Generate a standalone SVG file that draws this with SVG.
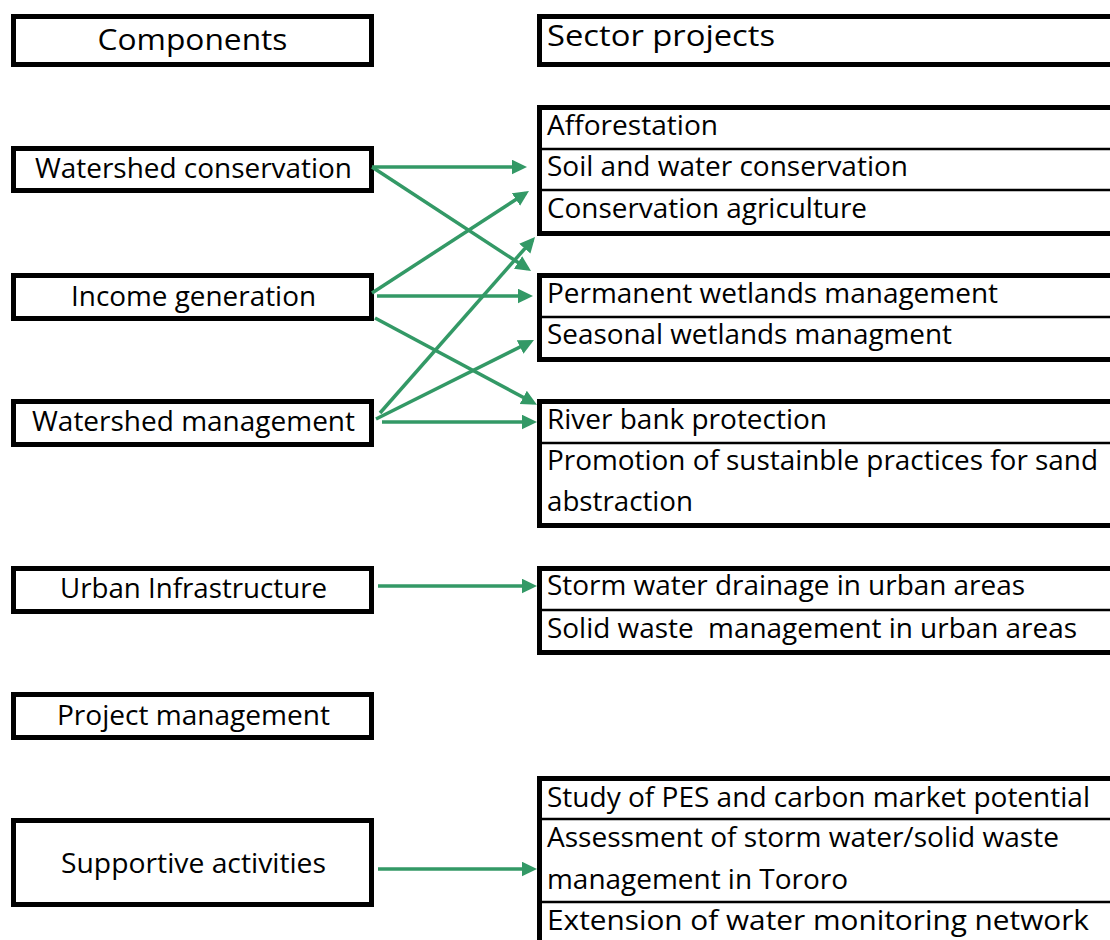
<svg xmlns="http://www.w3.org/2000/svg" width="1110" height="940" viewBox="0 0 1110 940">
  <style>
    .box { fill: #ffffff; stroke: #000000; stroke-width: 5; }
    .div { stroke: #000000; stroke-width: 2.5; }
    .t { font-family: "Open Sans", "Liberation Sans", sans-serif; font-size: 27px; fill: #000000; }
    .c { text-anchor: middle; }
    .h { font-size: 30px; }
    .arr { stroke: #339966; stroke-width: 3.5; fill: none; marker-end: url(#head); }
  </style>
  <defs>
    <marker id="head" markerUnits="userSpaceOnUse" markerWidth="16" markerHeight="16" refX="11.5" refY="7.5" orient="auto">
      <path d="M0,0 L15.5,7.5 L0,15 Z" fill="#339966"/>
    </marker>
  </defs>

  <rect width="1110" height="940" fill="#ffffff"/>

  <!-- left column: components -->
  <g id="components-header">
    <rect class="box" x="13.5" y="16.5" width="358" height="48"/>
    <text class="t c h" x="192.5" y="50" textLength="190" lengthAdjust="spacingAndGlyphs">Components</text>
  </g>
  <g id="watershed-conservation">
    <rect class="box" x="13.5" y="148.5" width="358" height="42"/>
    <text class="t c" x="193.5" y="178" textLength="317" lengthAdjust="spacingAndGlyphs">Watershed conservation</text>
  </g>
  <g id="income-generation">
    <rect class="box" x="13.5" y="275.5" width="358" height="43"/>
    <text class="t c" x="193.5" y="306" textLength="245" lengthAdjust="spacingAndGlyphs">Income generation</text>
  </g>
  <g id="watershed-management">
    <rect class="box" x="13.5" y="401.5" width="358" height="43"/>
    <text class="t c" x="193.5" y="431" textLength="323" lengthAdjust="spacingAndGlyphs">Watershed management</text>
  </g>
  <g id="urban-infrastructure">
    <rect class="box" x="13.5" y="568.5" width="358" height="43"/>
    <text class="t c" x="193.5" y="598" textLength="267" lengthAdjust="spacingAndGlyphs">Urban Infrastructure</text>
  </g>
  <g id="project-management">
    <rect class="box" x="13.5" y="694.5" width="358" height="43"/>
    <text class="t c" x="193.5" y="725" textLength="273" lengthAdjust="spacingAndGlyphs">Project management</text>
  </g>
  <g id="supportive-activities">
    <rect class="box" x="13.5" y="820.5" width="358" height="84"/>
    <text class="t c" x="193.5" y="873" textLength="265" lengthAdjust="spacingAndGlyphs">Supportive activities</text>
  </g>

  <!-- right column: sector projects -->
  <g id="sector-header">
    <rect class="box" x="539.5" y="16.5" width="600" height="48"/>
    <text class="t h" x="547" y="46" textLength="228" lengthAdjust="spacingAndGlyphs">Sector projects</text>
  </g>
  <g id="land-projects">
    <rect class="box" x="539.5" y="107.5" width="600" height="126"/>
    <line class="div" x1="539.5" y1="149" x2="1120" y2="149"/>
    <line class="div" x1="539.5" y1="190" x2="1120" y2="190"/>
    <text class="t" x="547" y="135" textLength="171" lengthAdjust="spacingAndGlyphs">Afforestation</text>
    <text class="t" x="547" y="176" textLength="361" lengthAdjust="spacingAndGlyphs">Soil and water conservation</text>
    <text class="t" x="547" y="218" textLength="320" lengthAdjust="spacingAndGlyphs">Conservation agriculture</text>
  </g>
  <g id="wetland-projects">
    <rect class="box" x="539.5" y="275.5" width="600" height="84"/>
    <line class="div" x1="539.5" y1="317" x2="1120" y2="317"/>
    <text class="t" x="547" y="303" textLength="451" lengthAdjust="spacingAndGlyphs">Permanent wetlands management</text>
    <text class="t" x="547" y="344" textLength="405" lengthAdjust="spacingAndGlyphs">Seasonal wetlands managment</text>
  </g>
  <g id="river-projects">
    <rect class="box" x="539.5" y="401.5" width="600" height="124"/>
    <line class="div" x1="539.5" y1="443" x2="1120" y2="443"/>
    <text class="t" x="547" y="429" textLength="280" lengthAdjust="spacingAndGlyphs">River bank protection</text>
    <text class="t" x="547" y="470" textLength="551" lengthAdjust="spacingAndGlyphs">Promotion of sustainble practices for sand</text>
    <text class="t" x="547" y="511" textLength="146" lengthAdjust="spacingAndGlyphs">abstraction</text>
  </g>
  <g id="urban-projects">
    <rect class="box" x="539.5" y="568.5" width="600" height="84"/>
    <line class="div" x1="539.5" y1="610" x2="1120" y2="610"/>
    <text class="t" x="547" y="595" textLength="478" lengthAdjust="spacingAndGlyphs">Storm water drainage in urban areas</text>
    <text class="t" x="547" y="638" xml:space="preserve" textLength="530" lengthAdjust="spacingAndGlyphs">Solid waste  management in urban areas</text>
  </g>
  <g id="support-projects">
    <rect class="box" x="539.5" y="778.5" width="600" height="200"/>
    <line class="div" x1="539.5" y1="819" x2="1120" y2="819"/>
    <line class="div" x1="539.5" y1="902" x2="1120" y2="902"/>
    <text class="t" x="547" y="807" textLength="543" lengthAdjust="spacingAndGlyphs">Study of PES and carbon market potential</text>
    <text class="t" x="547" y="847" textLength="512" lengthAdjust="spacingAndGlyphs">Assessment of storm water/solid waste</text>
    <text class="t" x="547" y="889" textLength="301" lengthAdjust="spacingAndGlyphs">management in Tororo</text>
    <text class="t" x="547" y="930" textLength="542" lengthAdjust="spacingAndGlyphs">Extension of water monitoring network</text>
  </g>

  <!-- connectors -->
  <g id="connectors">
    <line class="arr" x1="372" y1="167" x2="523" y2="167"/>
    <line class="arr" x1="372" y1="167" x2="527.7" y2="268.8"/>
    <line class="arr" x1="372" y1="293" x2="525.6" y2="193.2"/>
    <line class="arr" x1="377" y1="296" x2="529" y2="296"/>
    <line class="arr" x1="375" y1="318" x2="533.4" y2="402.8"/>
    <line class="arr" x1="380" y1="413" x2="532.4" y2="240"/>
    <line class="arr" x1="376" y1="419" x2="530.4" y2="341.8"/>
    <line class="arr" x1="382" y1="422" x2="533" y2="422"/>
    <line class="arr" x1="378" y1="586" x2="533" y2="586"/>
    <line class="arr" x1="378" y1="869" x2="533" y2="869"/>
  </g>
</svg>
